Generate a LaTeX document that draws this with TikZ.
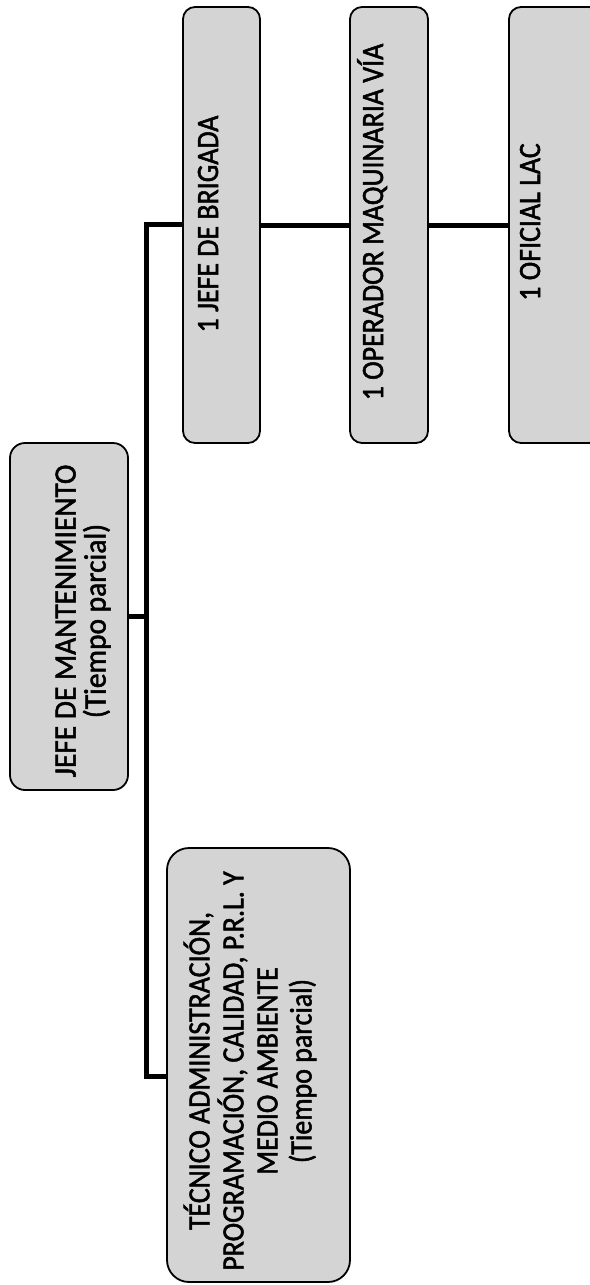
\documentclass[tikz,border=0pt]{standalone}
\usepackage{fontspec}
\setmainfont{Carlito}
\newfontfamily\chartfont{Carlito}[FakeBold=1.6, FakeStretch=0.9]
\newfontfamily\headfont{Carlito}[FakeBold=1.6, FakeStretch=0.95]
\begin{document}
\begin{tikzpicture}[x=1pt,y=-1pt,
  box/.style={draw=black, line width=1.8pt, fill=black!17, inner sep=0pt},
  lbl/.style={rotate=90, align=center, inner sep=0pt, font=\chartfont\fontsize{31}{34}\selectfont},
  conn/.style={line width=5pt, line join=miter}]
\useasboundingbox (0,0) rectangle (589,1285);

% boxes
\node[box, rounded corners=15pt, minimum width=118pt, minimum height=347pt] (jm) at (69,616.5) {};
\node[box, rounded corners=12pt, minimum width=77pt, minimum height=436pt] (brig) at (221.5,225) {};
\node[box, rounded corners=12pt, minimum width=78pt, minimum height=436pt] (oper) at (389,225) {};
\node[box, rounded corners=12pt, minimum width=92pt, minimum height=436pt] (ofic) at (555,225) {};
\node[box, rounded corners=22pt, minimum width=183pt, minimum height=434pt] (tec) at (258.5,1065) {};

% labels
\node[lbl, font=\headfont\fontsize{31}{30}\selectfont] (jmt) at (83,621) {JEFE DE MANTENIMIENTO\\(Tiempo parcial)};
\node[lbl, anchor=base] (brigt) at (218,224) {1 JEFE DE BRIGADA};
\node[lbl, anchor=base] (opert) at (383,222) {1 OPERADOR MAQUINARIA VÍA};
\node[lbl, anchor=base] (ofict) at (540,222) {1 OFICIAL LAC};
\node[lbl] (tect) at (250,1071) {TÉCNICO ADMINISTRACIÓN,\\PROGRAMACIÓN, CALIDAD, P.R.L. Y\\MEDIO AMBIENTE\\(Tiempo parcial)};

% connectors
\coordinate (top) at (146,224);
\coordinate (bot) at (146,1076);
\draw[conn] (top -| brig.west) -- (top) -- (bot) -- (bot -| tec.west);
\draw[conn] (jm.east) -- (jm.east -| top);
\draw[conn] (brig.east) -- (oper.west);
\draw[conn] (oper.east) -- (ofic.west);
\end{tikzpicture}
\end{document}
